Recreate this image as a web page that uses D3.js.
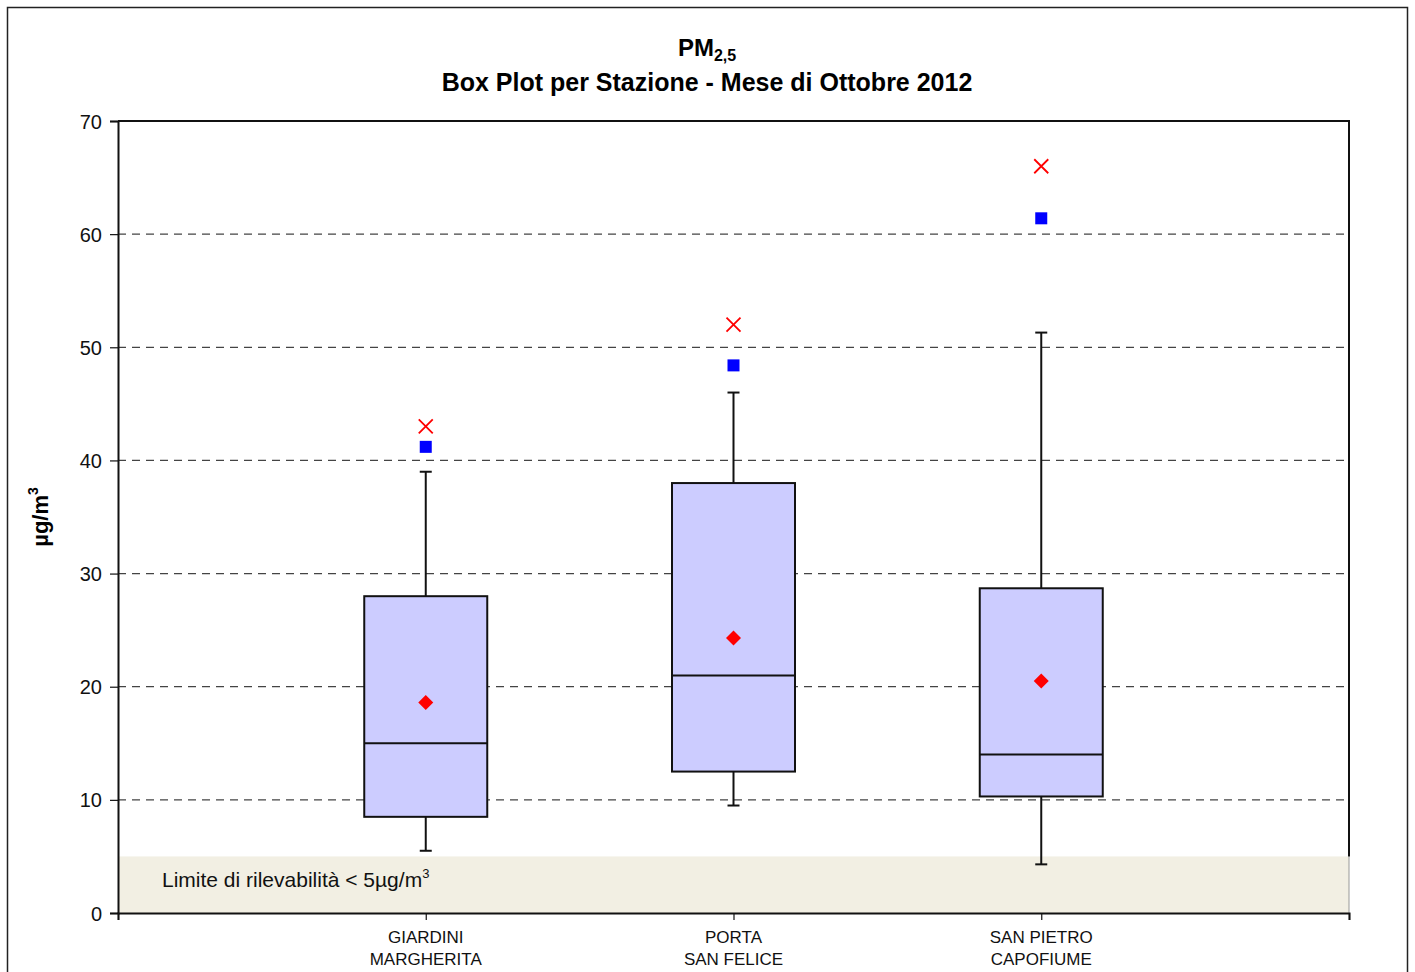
<!DOCTYPE html>
<html>
<head>
<meta charset="utf-8">
<script src="https://cdn.jsdelivr.net/npm/d3@7"></script>
<style>
  body { margin: 0; background: #fff; }
  text { font-family: "Liberation Sans", Arial, sans-serif; }
</style>
</head>
<body>
<svg id="chart" width="1415" height="972"></svg>
<script>
const stations = [["GIARDINI", "MARGHERITA"], ["PORTA", "SAN FELICE"], ["SAN PIETRO", "CAPOFIUME"]];
const whiskerLow = [5.5, 9.5, 4.3];
const q1 = [8.5, 12.5, 10.3];
const median = [15, 21, 14];
const q3 = [28, 38, 28.7];
const whiskerHigh = [39, 46, 51.3];
const meanVals = [18.6, 24.3, 20.5];
const p98 = [41.2, 48.4, 61.4];
const maxVals = [43, 52, 66];
const yTicks = [0, 10, 20, 30, 40, 50, 60, 70];
const detectionLimit = 5;

const svg = d3.select("#chart");
const L = 118, R = 1349, T = 121, B = 913;
const x = d3.scaleLinear().domain([0, stations.length + 1]).range([L, R]);
const y = d3.scaleLinear().domain([0, 70]).range([B, T]);

// outer frame
svg.append("rect").attr("x", 7.5).attr("y", 7.5).attr("width", 1400).attr("height", 980)
  .attr("fill", "none").attr("stroke", "#222").attr("stroke-width", 1.5);

// title
const t1 = svg.append("text").attr("x", 707).attr("y", 56).attr("text-anchor", "middle")
  .attr("font-weight", "bold").attr("font-size", 24);
t1.append("tspan").text("PM");
t1.append("tspan").attr("font-size", 16).attr("dy", 5).text("2,5");
svg.append("text").attr("x", 707).attr("y", 91).attr("text-anchor", "middle")
  .attr("font-weight", "bold").attr("font-size", 25)
  .text("Box Plot per Stazione - Mese di Ottobre 2012");

// gridlines
svg.append("g").selectAll("line").data(yTicks.filter(d => d > 0 && d < 70)).join("line")
  .attr("x1", L).attr("x2", R).attr("y1", d => y(d)).attr("y2", d => y(d))
  .attr("stroke", "#444").attr("stroke-width", 1.2).attr("stroke-dasharray", "8,6");

// detection limit band
svg.append("rect").attr("x", L).attr("y", y(detectionLimit)).attr("width", R - L)
  .attr("height", y(0) - y(detectionLimit)).attr("fill", "#F2EFE3");
svg.append("line").attr("x1", R).attr("x2", R).attr("y1", y(detectionLimit)).attr("y2", B)
  .attr("stroke", "#999").attr("stroke-width", 1);
const lt = svg.append("text").attr("x", 162).attr("y", 887).attr("font-size", 21).attr("fill", "#111");
lt.append("tspan").text("Limite di rilevabilità < 5µg/m");
lt.append("tspan").attr("font-size", 13).attr("dy", -9).text("3");

// plot frame (top, right)
svg.append("path").attr("d", `M${L},${T}H${R}V${y(detectionLimit)}`)
  .attr("fill", "none").attr("stroke", "#111").attr("stroke-width", 2);

// y axis
const yAxis = d3.axisLeft(y).tickValues(yTicks).tickSize(8).tickPadding(8);
const gy = svg.append("g").attr("transform", `translate(${L},0)`).call(yAxis);
gy.select(".domain").attr("stroke", "#111").attr("stroke-width", 2);
gy.selectAll(".tick line").attr("stroke", "#111").attr("stroke-width", 1.2);
gy.selectAll(".tick text").attr("font-size", 20).attr("fill", "#111")
  .attr("font-family", "Liberation Sans, Arial, sans-serif").attr("dy", "0.35em");

// x axis
const xAxis = d3.axisBottom(x).tickValues(d3.range(0, stations.length + 2)).tickSize(7).tickFormat("");
const gx = svg.append("g").attr("transform", `translate(0,${B})`).call(xAxis);
gx.select(".domain").attr("stroke", "#111").attr("stroke-width", 2);
gx.selectAll(".tick line").attr("stroke", "#111").attr("stroke-width", 1.2);
stations.forEach((s, i) => {
  const tx = svg.append("text").attr("x", x(i + 1)).attr("y", 943).attr("text-anchor", "middle")
    .attr("font-size", 17).attr("fill", "#111");
  tx.append("tspan").attr("x", x(i + 1)).text(s[0]);
  tx.append("tspan").attr("x", x(i + 1)).attr("dy", 22).text(s[1]);
});

// y label
const yl = svg.append("text").attr("transform", "translate(48,517) rotate(-90)")
  .attr("text-anchor", "middle").attr("font-weight", "bold").attr("font-size", 22);
yl.append("tspan").text("µg/m");
yl.append("tspan").attr("font-size", 14).attr("dy", -10).text("3");

// boxes
const bw = 123;
const g = svg.append("g");
stations.forEach((s, i) => {
  const cx = x(i + 1);
  g.append("line").attr("x1", cx).attr("x2", cx).attr("y1", y(whiskerLow[i])).attr("y2", y(q1[i]))
    .attr("stroke", "#111").attr("stroke-width", 2);
  g.append("line").attr("x1", cx).attr("x2", cx).attr("y1", y(whiskerHigh[i])).attr("y2", y(q3[i]))
    .attr("stroke", "#111").attr("stroke-width", 2);
  [whiskerLow[i], whiskerHigh[i]].forEach(v => {
    g.append("line").attr("x1", cx - 6).attr("x2", cx + 6).attr("y1", y(v)).attr("y2", y(v))
      .attr("stroke", "#111").attr("stroke-width", 2);
  });
  g.append("rect").attr("x", cx - bw / 2).attr("y", y(q3[i])).attr("width", bw)
    .attr("height", y(q1[i]) - y(q3[i])).attr("fill", "#CCCCFF").attr("stroke", "#111").attr("stroke-width", 2);
  g.append("line").attr("x1", cx - bw / 2).attr("x2", cx + bw / 2).attr("y1", y(median[i])).attr("y2", y(median[i]))
    .attr("stroke", "#111").attr("stroke-width", 2);
  const my = y(meanVals[i]);
  g.append("path").attr("d", `M${cx},${my - 7.5}L${cx + 7.5},${my}L${cx},${my + 7.5}L${cx - 7.5},${my}Z`).attr("fill", "#FF0000");
  const py = y(p98[i]);
  g.append("rect").attr("x", cx - 6).attr("y", py - 6).attr("width", 12).attr("height", 12).attr("fill", "#0000FF");
  const xy = y(maxVals[i]);
  g.append("path").attr("d", `M${cx - 7},${xy - 7}L${cx + 7},${xy + 7}M${cx - 7},${xy + 7}L${cx + 7},${xy - 7}`)
    .attr("stroke", "#FF0000").attr("stroke-width", 1.8);
});
</script>
</body>
</html>
